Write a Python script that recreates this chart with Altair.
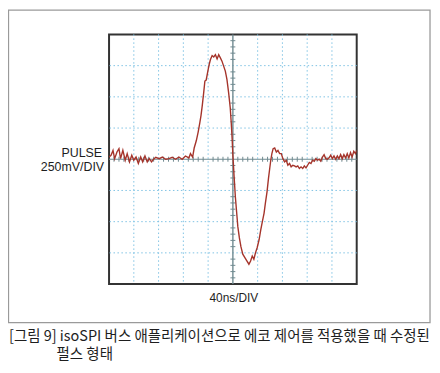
import altair as alt
import pandas as pd

# Oscilloscope trace: time in ns (40 ns/div), amplitude in mV (250 mV/div)
time_ns = [
    -200, -196.8, -193.6, -191, -187.2, -184, -181.4, -177.7, -173.9, -170.7,
    -167, -163.3, -160.1, -156.4, -152.7, -148.9, -145.7, -142, -138.3, -135.1,
    -131.4, -128.2, -124.5, -119.1, -113.8, -108.5, -103.2, -97.9, -92.5, -87.2,
    -81.9, -76.6, -71, -68.5, -65, -62.5, -59, -56, -53.5, -51.5,
    -49.5, -47, -45.2, -43.1, -40.4, -38.3, -36.2, -33.5, -30.9, -28.2,
    -25.5, -22.9, -20.2, -17.6, -14.9, -12.2, -9.6, -6.9, -4.3, -2.7,
    -1.2, 0, 0.8, 2, 4, 6, 8, 10.5, 13, 16,
    19.6, 23.3, 25.9, 28.6, 31.3, 33.9, 36.6, 39.2, 42.4, 45.1,
    47.7, 50.4, 52.5, 55.2, 57.5, 59.5, 61.2, 63, 65, 67.5,
    70.2, 72.8, 75.5, 78.2, 80.8, 83.5, 86.2, 88.8, 91.5, 94.1,
    96.8, 99.5, 102.1, 104.8, 107.4, 110.1, 112.8, 115.4, 118.1, 120.7,
    123.4, 126.1, 128.7, 131.4, 134, 136.7, 139.4, 142, 144.7, 147.3,
    150, 152.7, 155.3, 158, 160.7, 163.3, 166, 168.7, 171.3, 174,
    176.7, 179.3, 182, 184.7, 187.3, 190, 192.6, 195.3, 198, 200,
]
volt_mv = [
    18, 32, 71, 5, 58, 85, 5, 71, -8, 45,
    -21, 32, -8, 18, -34, 18, -21, 26, -21, 5,
    -21, 0, 16, 5, 18, 0, 5, 16, 0, 18,
    0, 26, 11, 45, 18, 90, 150, 220, 290, 350,
    428, 540, 627, 635, 706, 759, 799, 831, 820, 838,
    804, 838, 812, 786, 746, 706, 640, 534, 415, 296,
    164, 32, -34, -140, -300, -420, -540, -630, -700, -760,
    -790, -820, -841, -815, -775, -801, -748, -709, -643, -563,
    -497, -431, -352, -259, -153, -74, -8, 45, 85, 90,
    58, 71, 45, 45, 5, -21, -8, -48, -34, -61,
    -48, -53, -61, -53, -74, -61, -74, -53, -69, -48,
    -26, -34, -8, -16, 5, -8, 0, -16, 18, 37,
    5, 0, 11, 32, 5, 26, 0, 26, 5, 37,
    5, 37, 11, 45, 11, 53, 18, 63, 45, 71,
]

grid_x = [-160, -120, -80, -40, 40, 80, 120, 160]
grid_y = [-750, -500, -250, 250, 500, 750]
minor_x = [v for v in range(-192, 200, 8) if v % 40 != 0]
minor_y = [v for v in range(-950, 1000, 50) if v % 250 != 0]

trace = pd.DataFrame({"t": time_ns, "v": volt_mv})

xs = alt.Scale(domain=[-200, 200], nice=False, zero=False)
ys = alt.Scale(domain=[-1000, 1000], nice=False, zero=False)

W, H = 250, 252
PL, PT = 102, 25
TW, TH = 428, 357

frame = alt.Chart(pd.DataFrame({"a": [0]})).mark_rect(
    fill=None, stroke="#9a9a9a", strokeWidth=1.3
).encode(
    x=alt.value(-101.5), x2=alt.value(324), y=alt.value(-24.5), y2=alt.value(291)
)

vgrid = alt.Chart(pd.DataFrame({"g": grid_x})).mark_rule(
    color="#7fc2e4", strokeDash=[1.5, 2.5], strokeWidth=1
).encode(x=alt.X("g:Q", scale=xs, axis=None))

hgrid = alt.Chart(pd.DataFrame({"g": grid_y})).mark_rule(
    color="#7fc2e4", strokeDash=[1.5, 2.5], strokeWidth=1
).encode(y=alt.Y("g:Q", scale=ys, axis=None))

vcenter = alt.Chart(pd.DataFrame({"g": [0]})).mark_rule(
    color="#6f8a90", strokeWidth=1.4
).encode(x=alt.X("g:Q", scale=xs, axis=None))

hcenter = alt.Chart(pd.DataFrame({"g": [0]})).mark_rule(
    color="#6f8a90", strokeWidth=1.2
).encode(y=alt.Y("g:Q", scale=ys, axis=None))

vticks = alt.Chart(pd.DataFrame({"m": minor_y})).mark_rule(
    color="#6f8a90", strokeWidth=1
).encode(
    y=alt.Y("m:Q", scale=ys, axis=None),
    x=alt.value(W / 2 - 2.5), x2=alt.value(W / 2 + 2.5),
)

hticks = alt.Chart(pd.DataFrame({"m": minor_x})).mark_rule(
    color="#6f8a90", strokeWidth=1
).encode(
    x=alt.X("m:Q", scale=xs, axis=None),
    y=alt.value(H / 2 - 2.5), y2=alt.value(H / 2 + 2.5),
)

line = alt.Chart(trace).mark_line(
    color="#a5342b", strokeWidth=1.4, clip=True
).encode(
    x=alt.X("t:Q", scale=xs, axis=None),
    y=alt.Y("v:Q", scale=ys, axis=None),
)

def label(text, x, y, align="left", size=12, font="Liberation Sans"):
    return alt.Chart(pd.DataFrame({"s": [text]})).mark_text(
        align=align, baseline="middle", fontSize=size, font=font, color="#1e1e1e"
    ).encode(text="s:N", x=alt.value(x), y=alt.value(y))

texts = [
    label("PULSE", -7, 120, "right", 12.5),
    label("250mV/DIV", -5, 134, "right", 12.5),
    label("40ns/DIV", 126, 266, "center", 12),
    label("[그림 9] isoSPI 버스 애플리케이션으로 에코 제어를 적용했을 때 수정된",
          -101, 305, "left", 14.6, "Noto Sans CJK KR"),
    label("펄스 형태", -53, 324, "left", 14.6, "Noto Sans CJK KR"),
]

chart = alt.layer(
    frame, vgrid, hgrid, vcenter, hcenter, vticks, hticks, line, *texts
).properties(
    width=W, height=H,
    padding={"left": PL, "top": PT, "right": TW - PL - W, "bottom": TH - PT - H},
    autosize=alt.AutoSizeParams(type="none"),
).configure_view(
    stroke="#333333", strokeWidth=2
)

chart.save("out.html", embed_options={"renderer": "svg", "actions": False})
